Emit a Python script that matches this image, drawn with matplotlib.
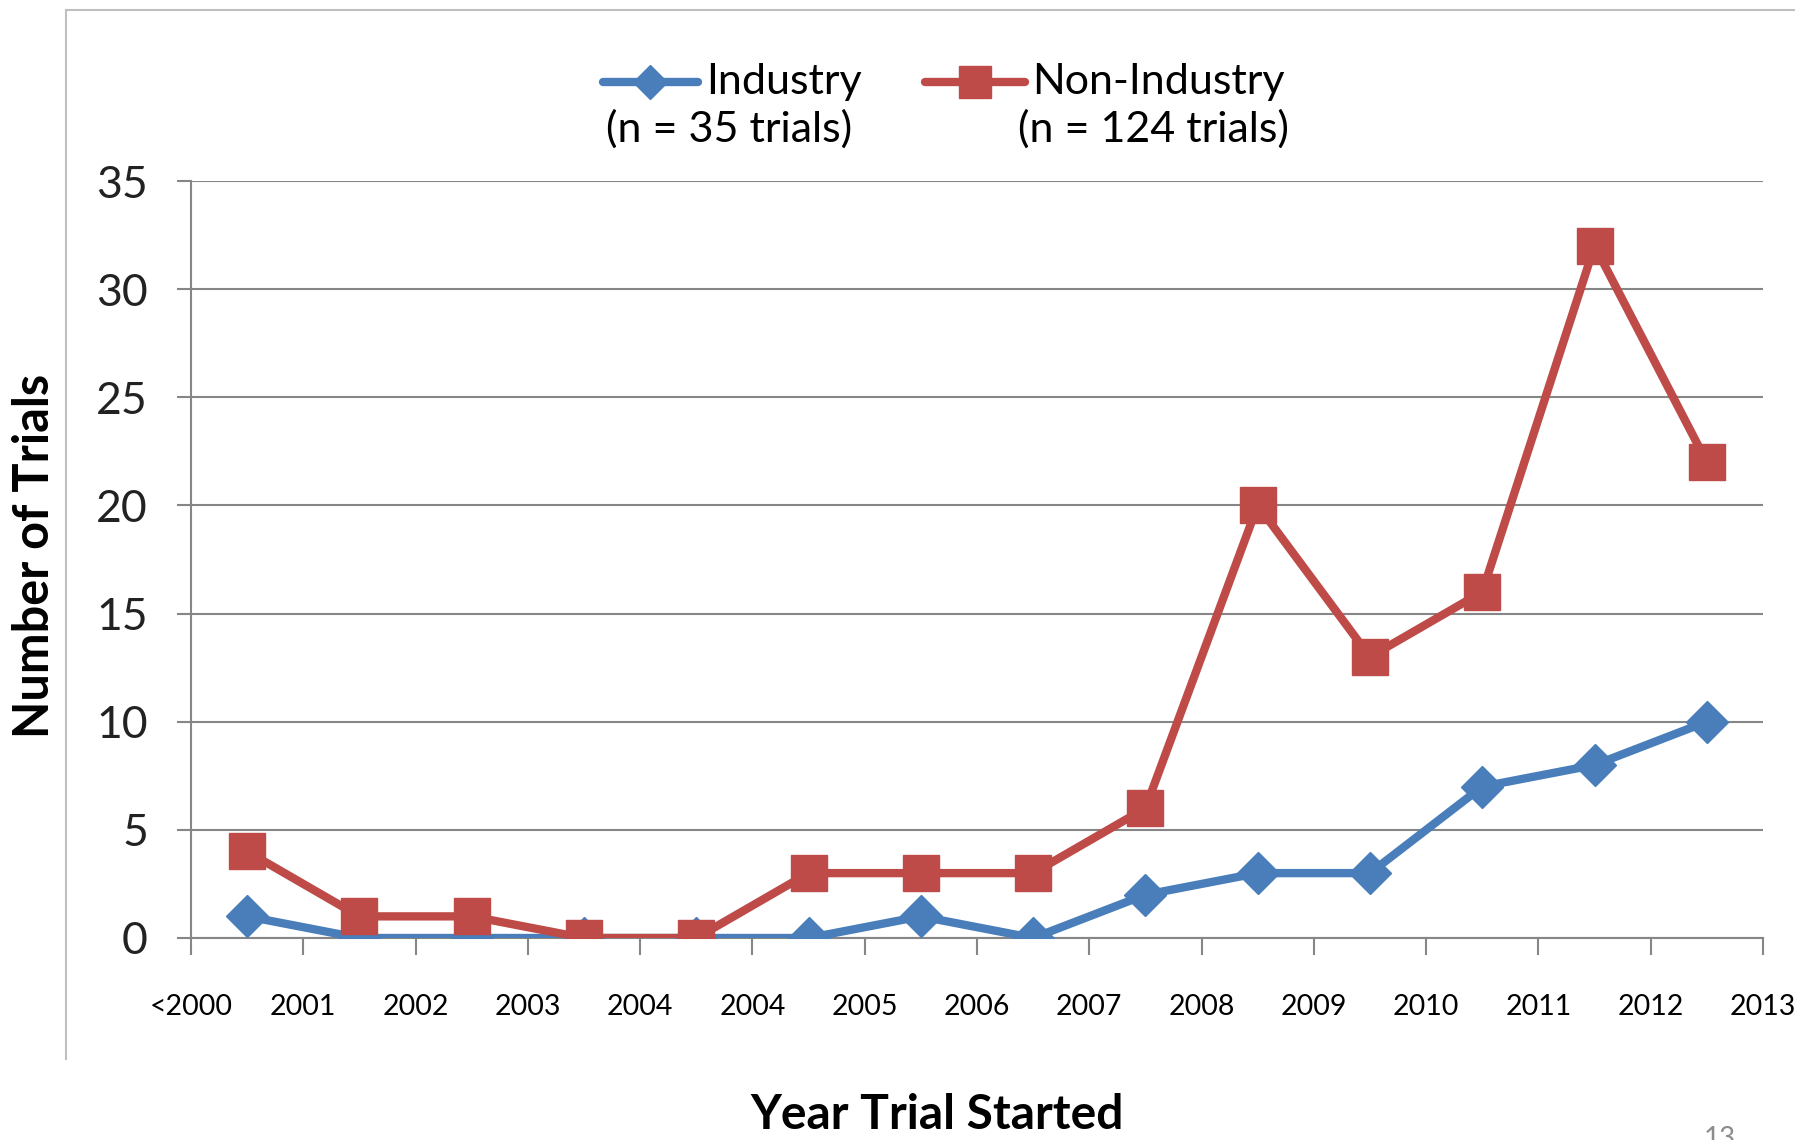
import matplotlib
matplotlib.use("Agg")
import matplotlib.pyplot as plt
from matplotlib.lines import Line2D
import numpy as np

# trial counts per start-year bin
years = ['<2000', '2001', '2002', '2003', '2004', '2004', '2005', '2006',
         '2007', '2008', '2009', '2010', '2011', '2012', '2013']
industry = [1, 0, 0, 0, 0, 0, 1, 0, 2, 3, 3, 7, 8, 10]
non_industry = [4, 1, 1, 0, 0, 3, 3, 3, 6, 20, 13, 16, 32, 22]

blue = '#4a7ebb'
red = '#be4b48'
grey = '#868686'

plt.rcParams['font.family'] = ['Lato', 'DejaVu Sans']

W, H = 1795, 1140
fig = plt.figure(figsize=(W / 100, H / 100), dpi=100)


def fx(px):
    return px / W


def fy(py):
    return 1 - py / H


ax = fig.add_axes([fx(191), fy(938), fx(1763) - fx(191), fy(181) - fy(938)])

x = np.arange(len(industry)) + 0.5
ax.plot(x, industry, color=blue, lw=6, marker='D', ms=21,
        mfc=blue, mec=blue, mew=1, zorder=3)
ax.plot(x, non_industry, color=red, lw=6, marker='s', ms=26,
        mfc=red, mec=red, mew=1, zorder=4)

ax.set_xlim(0, len(industry))
ax.set_ylim(0, 35)
ax.set_yticks(range(0, 36, 5))
ax.set_xticks(range(len(years)))
ax.set_xticklabels(years, fontsize=20.5)
ax.tick_params(axis='x', length=12, width=1.5, color=grey, pad=28)
ax.tick_params(axis='y', length=10, width=1.5, color=grey, pad=21,
               labelsize=32)

ax.grid(axis='y', color=grey, lw=1.5)
ax.set_axisbelow(True)
for s in ['top', 'right']:
    ax.spines[s].set_visible(False)
for s in ['left', 'bottom']:
    ax.spines[s].set_color(grey)
    ax.spines[s].set_linewidth(1.5)
for lab in ax.get_yticklabels():
    lab.set_color('#222222')

# axis titles
fig.text(fx(35), fy(556), 'Number of Trials', rotation=90, fontsize=35,
         fontweight='bold', ha='center', va='center')
fig.text(fx(937), fy(1115), 'Year Trial Started', fontsize=34.5,
         fontweight='bold', ha='center', va='center')

# legend drawn by hand
fig.add_artist(Line2D([fx(603), fx(698)], [fy(82), fy(82)], color=blue, lw=6,
                      solid_capstyle='round'))
fig.add_artist(Line2D([fx(650)], [fy(82)], marker='D', ms=17, color=blue, lw=0))
fig.add_artist(Line2D([fx(925), fx(1025)], [fy(82), fy(82)], color=red, lw=6,
                      solid_capstyle='round'))
fig.add_artist(Line2D([fx(975)], [fy(82)], marker='s', ms=23, color=red, lw=0))
fig.text(fx(706), fy(82), 'Industry', fontsize=31, ha='left', va='center')
fig.text(fx(606), fy(129), '(n = 35 trials)', fontsize=31, ha='left', va='center')
fig.text(fx(1032), fy(82), 'Non-Industry', fontsize=31, ha='left', va='center')
fig.text(fx(1289), fy(129), '(n = 124 trials)', fontsize=31, ha='right', va='center')

# frame around the chart
fig.add_artist(Line2D([fx(66), fx(66)], [fy(10), fy(1059)], color='#bfbfbf', lw=1.5))
fig.add_artist(Line2D([fx(66), 1], [fy(10), fy(10)], color='#bfbfbf', lw=1.5))

# slide number
fig.text(fx(1720), fy(1126), '13', fontsize=20, color='#8c8c8c',
         ha='center', va='top')

fig.savefig('out.png', dpi=100)
